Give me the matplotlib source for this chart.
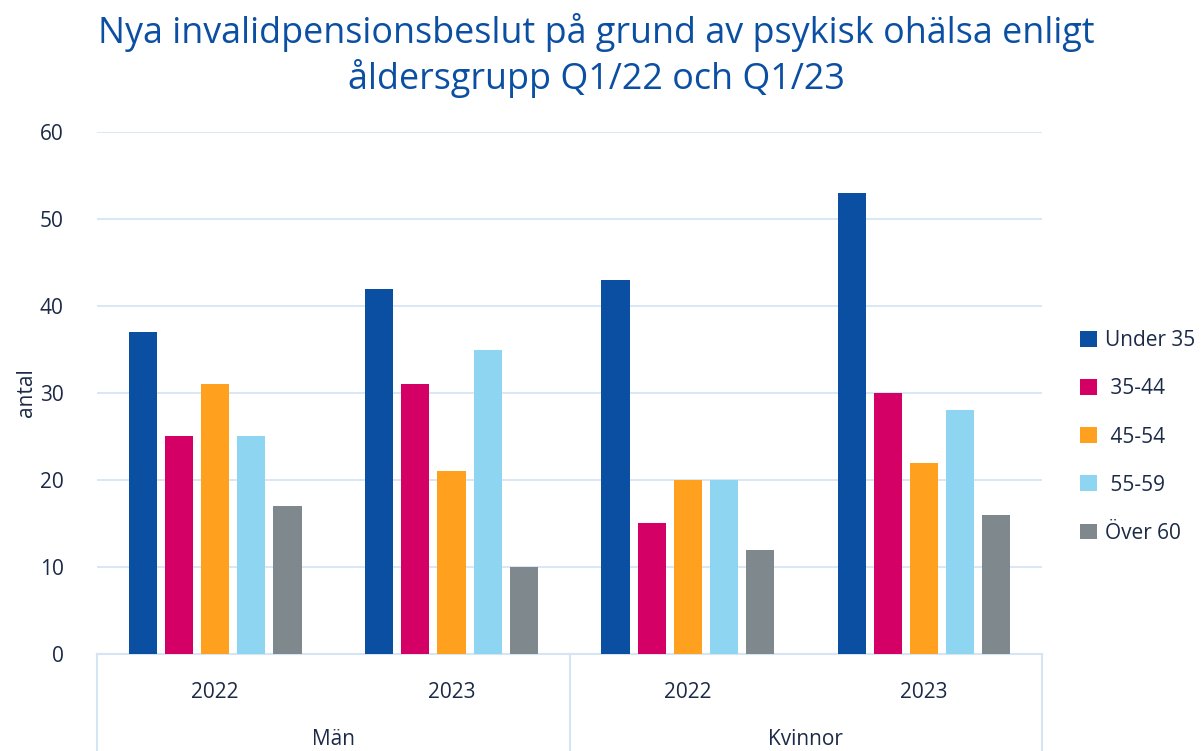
import numpy as np
import matplotlib.pyplot as plt
from matplotlib.patches import Patch
from matplotlib.transforms import blended_transform_factory

plt.rcParams['font.family'] = ['Open Sans', 'DejaVu Sans']

# data
groups = ['Män', 'Kvinnor']
years = ['2022', '2023', '2022', '2023']
age_labels = ['Under 35', ' 35-44', ' 45-54', ' 55-59', 'Över 60']
under35 = [37, 42, 43, 53]
a35_44 = [25, 31, 15, 30]
a45_54 = [31, 21, 20, 22]
a55_59 = [25, 35, 20, 28]
over60 = [17, 10, 12, 16]

series = [under35, a35_44, a45_54, a55_59, over60]
colors = ['#0B4FA3', '#D40066', '#FFA01E', '#8DD5F0', '#7F888D']
text_col = '#1B2A47'
grid_col = '#D5E5F6'

fig = plt.figure(figsize=(12.04, 7.51), dpi=100)
ax = fig.add_axes([0.0806, 0.1292, 0.785, 0.695])

x = np.arange(len(years)) + 0.5
step = 0.153
width = 0.119
for i, (vals, c) in enumerate(zip(series, colors)):
    ax.bar(x + (i - 2) * step, vals, width, color=c, zorder=3)

ax.set_xlim(0, 4)
ax.set_ylim(0, 60)
ax.set_yticks(range(0, 61, 10))
ax.grid(axis='y', color=grid_col, linewidth=1.3, zorder=0)
for s in ['top', 'right', 'left']:
    ax.spines[s].set_visible(False)
ax.spines['bottom'].set_color(grid_col)
ax.spines['bottom'].set_linewidth(1.5)
ax.tick_params(length=0, labelsize=15, colors=text_col)
ax.tick_params(axis='y', pad=24)
ax.tick_params(axis='x', pad=20)
ax.set_xticks(x)
ax.set_xticklabels(years)
ax.set_ylabel('antal', fontsize=15, color=text_col, labelpad=2)

# multi-level category axis
trans = blended_transform_factory(ax.transData, ax.transAxes)
for xv in [0, 2, 4]:
    ax.plot([xv, xv], [0, -0.26], color=grid_col, lw=1.5, transform=trans, clip_on=False)
for gi, g in enumerate(groups):
    ax.text(gi * 2 + 1, -0.163, g, transform=trans, ha='center', va='center',
            fontsize=15, color=text_col)

fig.text(0.495, 0.926, 'Nya invalidpensionsbeslut på grund av psykisk ohälsa enligt\nåldersgrupp Q1/22 och Q1/23',
         ha='center', va='center', fontsize=25.8, color='#0B4FA3', linespacing=1.25)

handles = [Patch(facecolor=c) for c in colors]
fig.legend(handles, age_labels, loc='center left', bbox_to_anchor=(0.89, 0.418),
           frameon=False, fontsize=15, labelcolor=text_col, handlelength=0.8,
           handleheight=0.8, handletextpad=0.4, labelspacing=1.3, borderaxespad=0)

fig.savefig('out.png', dpi=100)
